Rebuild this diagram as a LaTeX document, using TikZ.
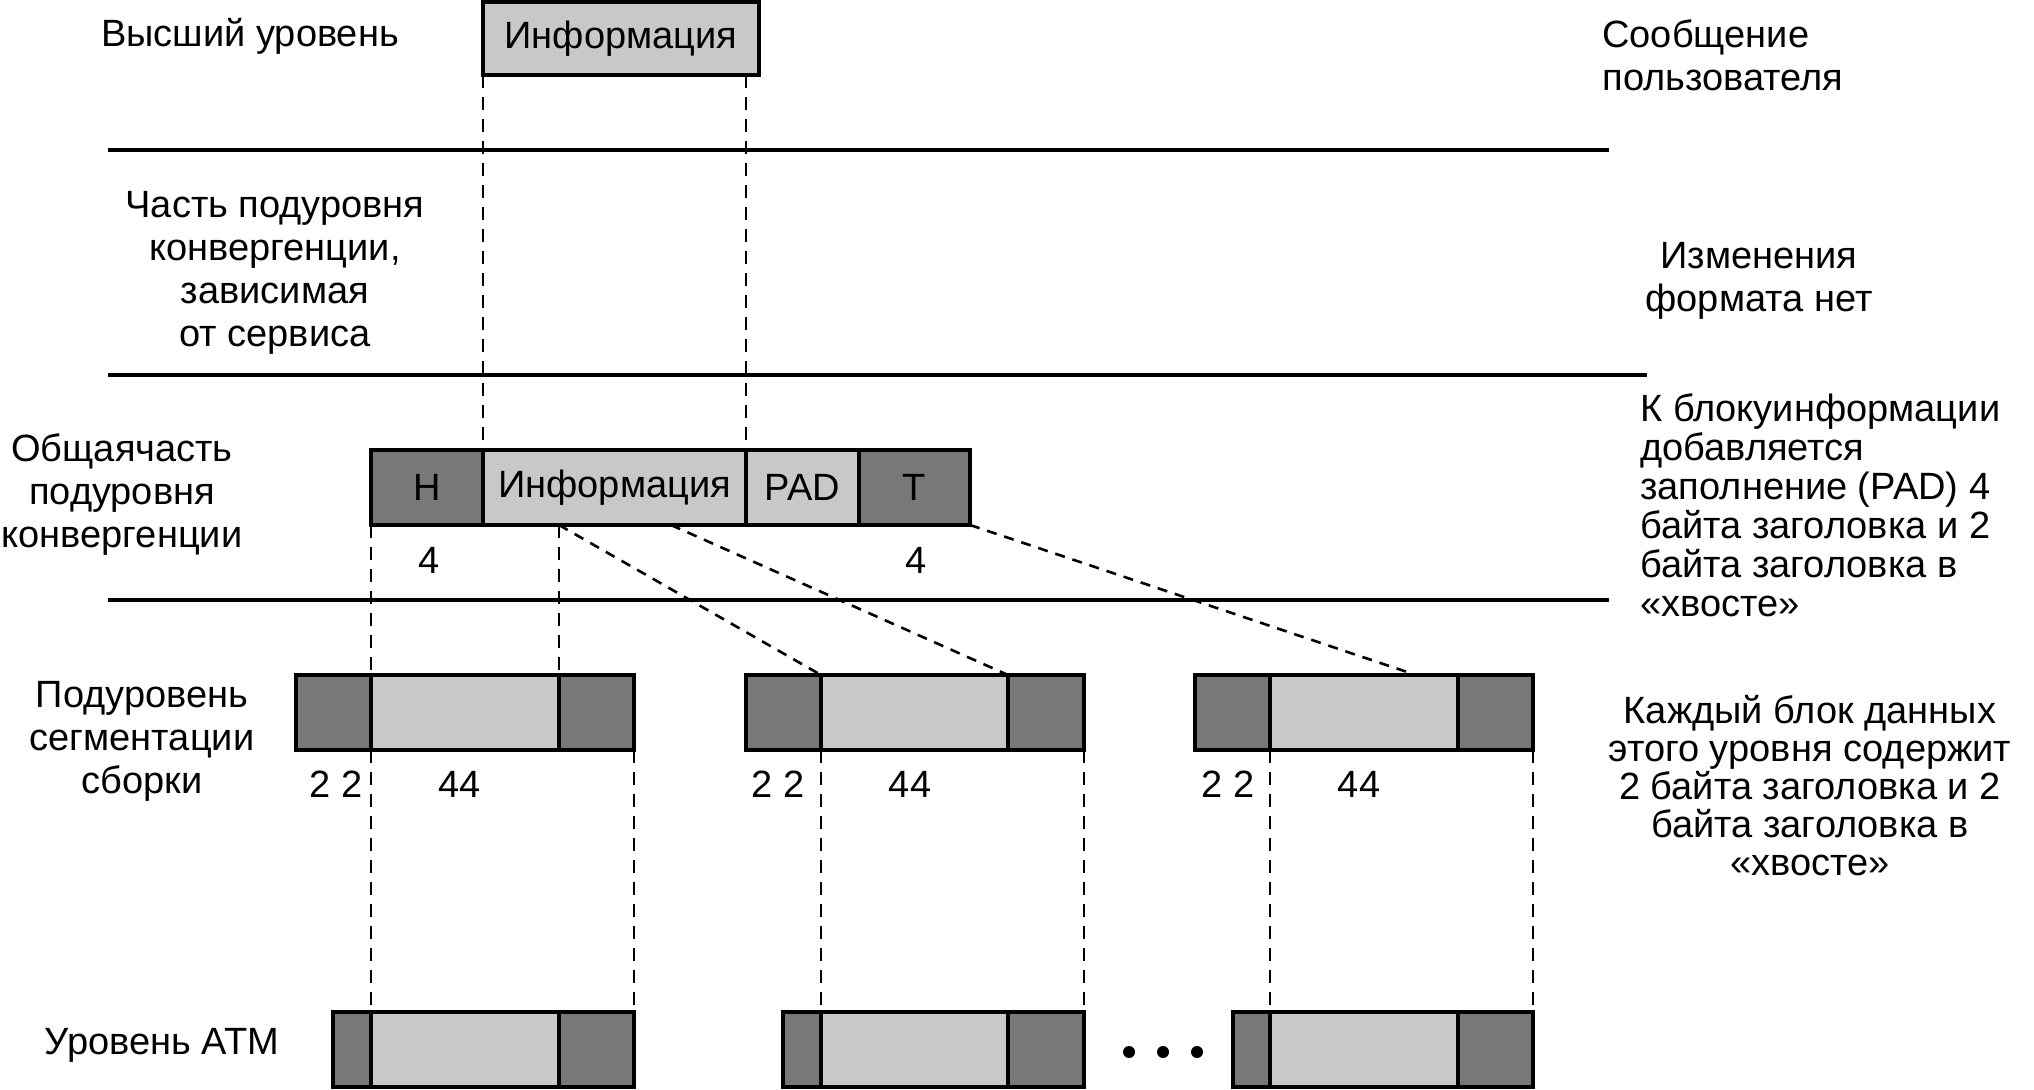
\documentclass[tikz,border=0pt]{standalone}
\usepackage{fontspec}
\setmainfont{Liberation Sans}
\begin{document}
\begin{tikzpicture}[x=0.5pt,y=-0.5pt,
  every node/.style={font=\fontsize{19}{21.5}\selectfont},
  seg/.style={draw=black, line width=1.6pt, inner sep=0pt, outer sep=0pt, minimum height=37.5pt},
  dk/.style={seg, fill=dkgray},
  lt/.style={seg, fill=ltgray},
  rule/.style={line width=1.6pt},
  vdash/.style={line width=1.2pt, dash pattern=on 6.5pt off 4.5pt},
  ddash/.style={line width=1.3pt, dash pattern=on 5pt off 4pt},
  lbl/.style={align=center, inner sep=0pt},
  rlbl/.style={align=left, inner sep=0pt, font=\fontsize{19}{19.5}\selectfont},
  rclbl/.style={align=center, inner sep=0pt, font=\fontsize{19}{19}\selectfont},
]
\definecolor{dkgray}{HTML}{787878}
\definecolor{ltgray}{HTML}{C8C8C8}
\useasboundingbox (0,0) rectangle (2034,1090);

% horizontal rules
\coordinate (r1a) at (108,150); \coordinate (r1b) at (1609,150);
\coordinate (r2a) at (108,375); \coordinate (r2b) at (1647,375);
\coordinate (r3a) at (108,600); \coordinate (r3b) at (1609,600);
\draw[rule] (r1a) -- (r1b);
\draw[rule] (r2a) -- (r2b);
\draw[rule] (r3a) -- (r3b);

% top info box
\node[lt, minimum width=138pt, minimum height=36.5pt] (top) at (621,38.5) {Информация};

% CPCS row
\node[dk, minimum width=56pt]   (ch) at (427,487.5) {H};
\node[lt, minimum width=131.5pt] (ci) at (614.5,487.5) {Информация};
\node[lt, minimum width=56.5pt] (cp) at (802.5,487.5) {PAD};
\node[dk, minimum width=55.5pt] (ct) at (914.5,487.5) {T};
\node[inner sep=0pt] (n4a) at (429,560) {4};
\node[inner sep=0pt] (n4b) at (916,560) {4};

% SAR row
\node[dk, minimum width=37.5pt] (s1l) at (333.5,712.5) {};
\node[lt, minimum width=94pt]   (s1i) at (465,712.5) {};
\node[dk, minimum width=37.5pt] (s1r) at (596.5,712.5) {};
\node[dk, minimum width=37.5pt] (s2l) at (783.5,712.5) {};
\node[lt, minimum width=93.5pt] (s2i) at (914.5,712.5) {};
\node[dk, minimum width=38pt]   (s2r) at (1046,712.5) {};
\node[dk, minimum width=37.5pt] (s3l) at (1232.5,712.5) {};
\node[lt, minimum width=94pt]   (s3i) at (1364,712.5) {};
\node[dk, minimum width=37.5pt] (s3r) at (1495.5,712.5) {};
\node[inner sep=0pt] (t22a) at (336,784) {2 2};
\node[inner sep=0pt] (t44a) at (460,784) {44};
\node[inner sep=0pt] (t22b) at (778,784) {2 2};
\node[inner sep=0pt] (t44b) at (910,784) {44};
\node[inner sep=0pt] (t22c) at (1228,784) {2 2};
\node[inner sep=0pt] (t44c) at (1359,784) {44};

% ATM row
\node[dk, minimum width=19pt]   (a1l) at (352,1049.5) {};
\node[lt, minimum width=94pt]   (a1i) at (465,1049.5) {};
\node[dk, minimum width=37.5pt] (a1r) at (596.5,1049.5) {};
\node[dk, minimum width=19.5pt] (a2l) at (802.5,1049.5) {};
\node[lt, minimum width=93.5pt] (a2i) at (914.5,1049.5) {};
\node[dk, minimum width=38pt]   (a2r) at (1046,1049.5) {};
\node[dk, minimum width=19pt]   (a3l) at (1252,1049.5) {};
\node[lt, minimum width=94pt]   (a3i) at (1364,1049.5) {};
\node[dk, minimum width=37.5pt] (a3r) at (1495.5,1049.5) {};

% dots
\fill (1129,1052) circle (3pt);
\fill (1163,1052) circle (3pt);
\fill (1197,1052) circle (3pt);

% dashed connectors
\coordinate (ds1) at (s1i.north east |- ci.south);
\coordinate (ds2) at (671,525);
\coordinate (de3) at (1416,675);
\draw[vdash] (top.south west) -- (ci.north west);
\draw[vdash] (ci.north east |- top.south) -- (ci.north east);
\draw[vdash] (ch.south west) -- (s1i.north west);
\draw[vdash] (ds1) -- (s1i.north east);
\draw[ddash] (ds1) -- (s2i.north west);
\draw[ddash] (ds2) -- (s2i.north east);
\draw[ddash] (ct.south east) -- (de3);
\draw[vdash] (s1i.south west) -- (a1i.north west);
\draw[vdash] (s1r.south east) -- (a1r.north east);
\draw[vdash] (s2i.south west) -- (a2i.north west);
\draw[vdash] (s2r.south east) -- (a2r.north east);
\draw[vdash] (s3i.south west) -- (a3i.north west);
\draw[vdash] (s3r.south east) -- (a3r.north east);

% left labels
\node[lbl] (L1) at (250,36) {Высший уровень};
\node[lbl] (L2) at (275,273) {Часть подуровня\\конвергенции,\\зависимая\\от сервиса};
\node[lbl] (L3) at (122,495) {Общаячасть\\подуровня\\конвергенции};
\node[lbl] (L4) at (142,741) {Подуровень\\сегментации\\сборки};
\node[lbl] (L5) at (162,1045) {Уровень ATM};

% right labels
\node[lbl, align=left, anchor=west] (R1) at (1602,55) {Сообщение\\пользователя};
\node[lbl] (R2) at (1759,281) {Изменения\\формата нет};
\node[rlbl, anchor=west] (R3) at (1640,505) {К блокуинформации\\добавляется\\заполнение (PAD) 4\\байта заголовка и 2\\байта заголовка в\\«хвосте»};
\node[rclbl] (R4) at (1810,786) {Каждый блок данных\\этого уровня содержит\\2 байта заголовка и 2\\байта заголовка в\\«хвосте»};
\end{tikzpicture}
\end{document}
